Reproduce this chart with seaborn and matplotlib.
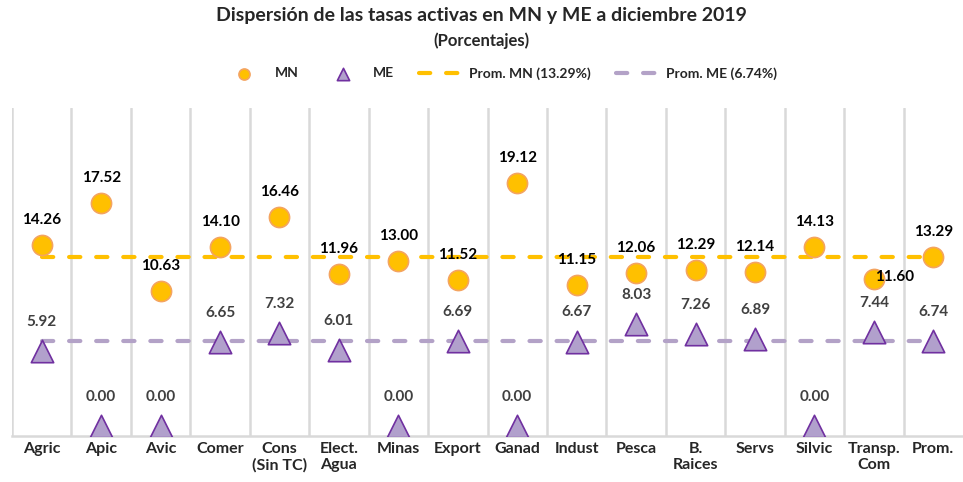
import pandas as pd
import matplotlib.pyplot as plt
import seaborn as sns

# Data
sectors = ["Agric", "Apic", "Avic", "Comer", "Cons\n(Sin TC)", "Elect.\nAgua", "Minas",
           "Export", "Ganad", "Indust", "Pesca", "B.\nRaices", "Servs", "Silvic",
           "Transp.\nCom", "Prom."]
mn_rates = [14.26, 17.52, 10.63, 14.10, 16.46, 11.96, 13.00, 11.52, 19.12, 11.15,
            12.06, 12.29, 12.14, 14.13, 11.60, 13.29]
me_rates = [5.92, 0.00, 0.00, 6.65, 7.32, 6.01, 0.00, 6.69, 0.00, 6.67,
            8.03, 7.26, 6.89, 0.00, 7.44, 6.74]
avg_mn = 13.29
avg_me = 6.74

df = pd.DataFrame({"sector": sectors, "MN": mn_rates, "ME": me_rates})
df["pos"] = range(len(df))
df["avg_mn"] = avg_mn
df["avg_me"] = avg_me

sns.set_style("white")
plt.rcParams["font.family"] = ["Lato", "DejaVu Sans"]

fig = plt.figure(figsize=(9.63, 4.82), dpi=100)
ax = fig.add_axes([0.0125, 0.0954, 0.9875, 0.680])

grid_col = "#D9D9D9"
for i in range(len(df)):
    ax.axvline(i - 0.5, color=grid_col, lw=1.8, zorder=0)

# average lines
sns.lineplot(data=df, x="pos", y="avg_mn", ax=ax, color="#FFC000", lw=3,
             dashes=False, zorder=2, label="Prom. MN (13.29%)")
sns.lineplot(data=df, x="pos", y="avg_me", ax=ax, color="#B3A2C7", lw=3,
             dashes=False, zorder=2, label="Prom. ME (6.74%)")
for ln in ax.get_lines()[-2:]:
    ln.set_dashes((2.7, 3.8))
    ln.set_dash_capstyle("round")

# markers
sns.scatterplot(data=df, x="pos", y="MN", ax=ax, marker="o", s=210, color="#FFC000",
                edgecolor="#F4A460", linewidth=1.2, zorder=3, label="MN")
sns.scatterplot(data=df, x="pos", y="ME", ax=ax, marker="^", s=260, color="#B1A0CC",
                edgecolor="#7030A0", linewidth=1.2, zorder=3, label="ME")

# data labels
for i, row in df.iterrows():
    off = (15, 1) if row["sector"].startswith("Transp") else (0, 18)
    ax.annotate(f"{row['MN']:.2f}", (row["pos"], row["MN"]), xytext=off,
                textcoords="offset points", ha="center", va="center",
                fontsize=11, fontweight="bold", color="black", zorder=5)
    ax.annotate(f"{row['ME']:.2f}", (row["pos"], row["ME"]), xytext=(0, 21),
                textcoords="offset points", ha="center", va="center",
                fontsize=11, fontweight="bold", color="#404040", zorder=5)

ax.set_xlim(-0.5, len(df) - 0.5)
ax.set_ylim(-0.75, 25)
ax.set_xticks(df["pos"])
ax.set_xticklabels(sectors, fontsize=11.5, fontweight="bold", va="top")
ax.tick_params(axis="x", length=0, pad=4)
ax.set_yticks([])
ax.set_xlabel("")
ax.set_ylabel("")
for side in ["top", "left", "right"]:
    ax.spines[side].set_visible(False)
ax.spines["bottom"].set_color(grid_col)
ax.spines["bottom"].set_linewidth(1.8)

# legend in order MN, ME, Prom. MN, Prom. ME
handles, labels = ax.get_legend_handles_labels()
order = [labels.index(l) for l in ["MN", "ME", "Prom. MN (13.29%)", "Prom. ME (6.74%)"]]
ax.get_legend().remove()
fig.legend([handles[i] for i in order], [labels[i] for i in order], loc="center",
           bbox_to_anchor=(0.52, 0.848), ncol=4, frameon=False, markerscale=0.55,
           handlelength=2.8, columnspacing=1.8, prop={"weight": "bold", "size": 10})

fig.text(0.5, 0.968, "Dispersión de las tasas activas en MN y ME a diciembre 2019",
         ha="center", va="center", fontsize=14, fontweight="bold")
fig.text(0.5, 0.915, "(Porcentajes)", ha="center", va="center",
         fontsize=12, fontweight="bold")

fig.savefig("out.png", dpi=100)
